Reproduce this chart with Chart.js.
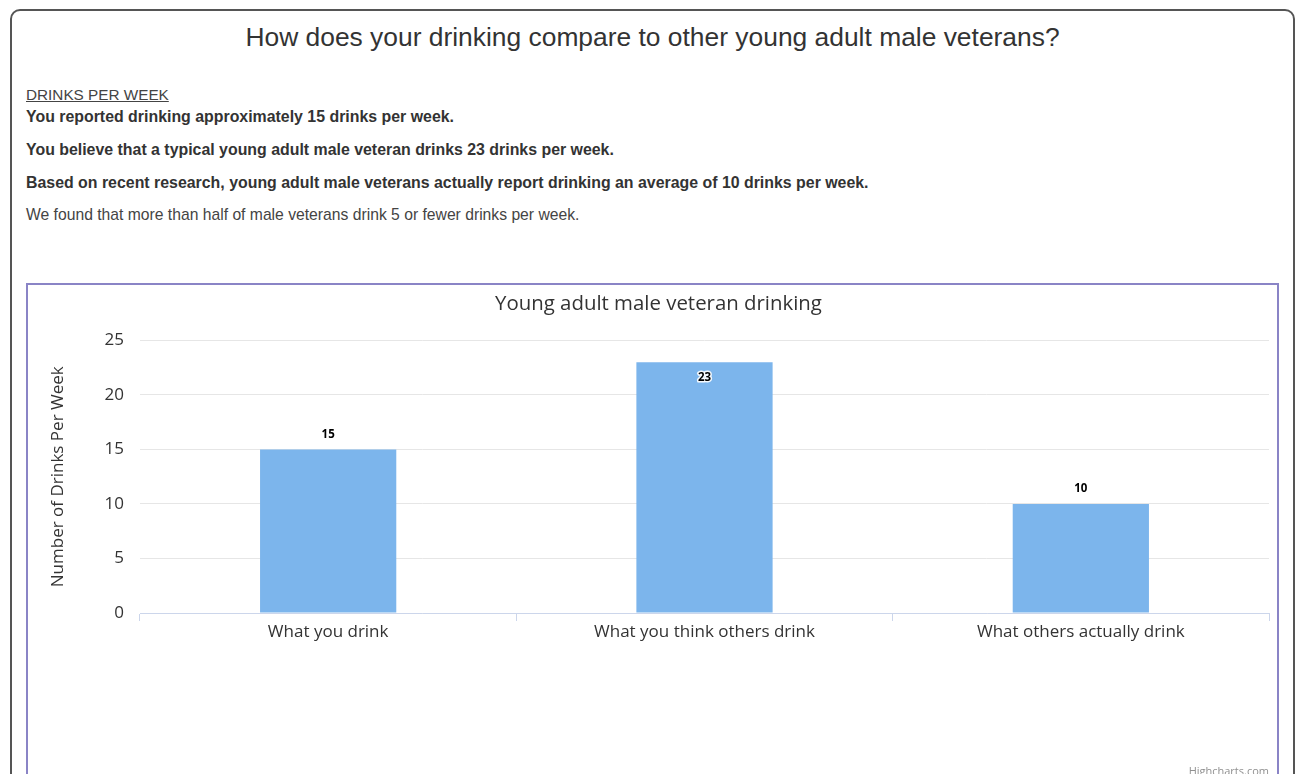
<!DOCTYPE html>
<html>
<head>
<meta charset="utf-8">
<script src="https://cdn.jsdelivr.net/npm/chart.js@4"></script>
<style>
    html, body { margin: 0; padding: 0; background: #fff; overflow: hidden; }
    body { width: 1295px; height: 774px; position: relative; font-family: "Liberation Sans", Arial, sans-serif; }
    #page {
        position: absolute; left: 10px; top: 9px; width: 1285px; height: 800px;
        border: 2px solid #555; border-radius: 10px; box-sizing: border-box;
    }
    h1 {
        position: absolute; left: 0; top: 22px; width: 1305px; margin: 0;
        text-align: center; font-weight: normal; font-size: 26.4px; color: #333;
    }
    .txt { position: absolute; left: 26px; margin: 0; color: #333; font-size: 15.9px; }
    .hdr { top: 86px; text-decoration: underline; color: #444; font-size: 15.3px; }
    .b { font-weight: bold; }
    .plain { color: #444; font-size: 15.7px; }
    #box {
        position: absolute; left: 26px; top: 283px; width: 1253px; height: 520px;
        border: 2px solid #8a84c6; box-sizing: border-box; background: #fff;
    }
    #wrap { position: absolute; left: 0; top: 0; width: 1249px; height: 500px; }
    #credit { position: absolute; right: 26px; top: 763px; font-size: 11px; color: #909090; font-family: "Open Sans", sans-serif; }
</style>
</head>
<body>
<div id="page"></div>
<h1>How does your drinking compare to other young adult male veterans?</h1>
<p class="txt hdr">DRINKS PER WEEK</p>
<p class="txt b" style="top:108px">You reported drinking approximately 15 drinks per week.</p>
<p class="txt b" style="top:141px">You believe that a typical young adult male veteran drinks 23 drinks per week.</p>
<p class="txt b" style="top:174px">Based on recent research, young adult male veterans actually report drinking an average of 10 drinks per week.</p>
<p class="txt plain" style="top:206px">We found that more than half of male veterans drink 5 or fewer drinks per week.</p>
<div id="box"><div id="wrap"><canvas id="drinkChart"></canvas></div></div>
<div id="credit">Highcharts.com</div>

<script>
const categories = ['What you drink', 'What you think others drink', 'What others actually drink'];
const drinks = [15, 23, 10];
const yTicks = [0, 5, 10, 15, 20, 25];

// label nilai di atas batang (ala Highcharts)
const valueLabels = {
    id: 'valueLabels',
    afterDatasetsDraw(chart) {
        const ctx = chart.ctx;
        const meta = chart.getDatasetMeta(0);
        ctx.save();
        ctx.font = 'bold 11.5px "Open Sans", sans-serif';
        ctx.textAlign = 'center';
        ctx.textBaseline = 'middle';
        ctx.lineJoin = 'round';
        meta.data.forEach((bar, i) => {
            let y = bar.y - 15;
            if (y - chart.chartArea.top < 20) y = bar.y + 15;
            ctx.lineWidth = 3;
            ctx.strokeStyle = 'rgba(255,255,255,0.9)';
            ctx.strokeText(drinks[i], bar.x, y);
            ctx.fillStyle = '#000';
            ctx.fillText(drinks[i], bar.x, y);
        });
        ctx.restore();
    }
};

const ctx = document.getElementById('drinkChart').getContext('2d');
new Chart(ctx, {
    type: 'bar',
    data: {
        labels: categories,
        datasets: [{
            label: 'Drinks',
            data: drinks,
            backgroundColor: '#7cb5ec',
            borderWidth: 0,
            barPercentage: 0.362,
            categoryPercentage: 1
        }]
    },
    options: {
        responsive: true,
        maintainAspectRatio: false,
        animation: false,
        layout: { padding: { left: 20, right: 8, top: 0, bottom: 0 } },
        plugins: {
            legend: { display: false },
            tooltip: { enabled: false },
            title: {
                display: true,
                text: 'Young adult male veteran drinking',
                color: '#333',
                font: { family: '"Open Sans", sans-serif', size: 20.4, weight: 'normal' },
                padding: { top: 7, bottom: 24 }
            }
        },
        scales: {
            x: {
                grid: { offset: true, drawOnChartArea: false, color: '#ccd6eb', tickLength: 8 },
                border: { color: '#ccd6eb', width: 1 },
                ticks: { color: '#333', font: { family: '"Open Sans", sans-serif', size: 17 }, padding: 1 },
                afterFit: axis => { axis.height = 172; }
            },
            y: {
                min: 0,
                max: 25,
                afterBuildTicks: axis => { axis.ticks = yTicks.map(v => ({ value: v })); },
                grid: { color: '#e6e6e6', drawTicks: false },
                border: { display: false },
                ticks: { color: '#333', font: { family: '"Open Sans", sans-serif', size: 17 }, padding: 16 },
                title: {
                    display: true,
                    text: 'Number of Drinks Per Week',
                    color: '#333',
                    font: { family: '"Open Sans", sans-serif', size: 17, weight: 'normal' },
                    padding: { top: 0, bottom: 8 }
                },
                afterFit: axis => { axis.width = 92; }
            }
        }
    },
    plugins: [valueLabels]
});
</script>
</body>
</html>
